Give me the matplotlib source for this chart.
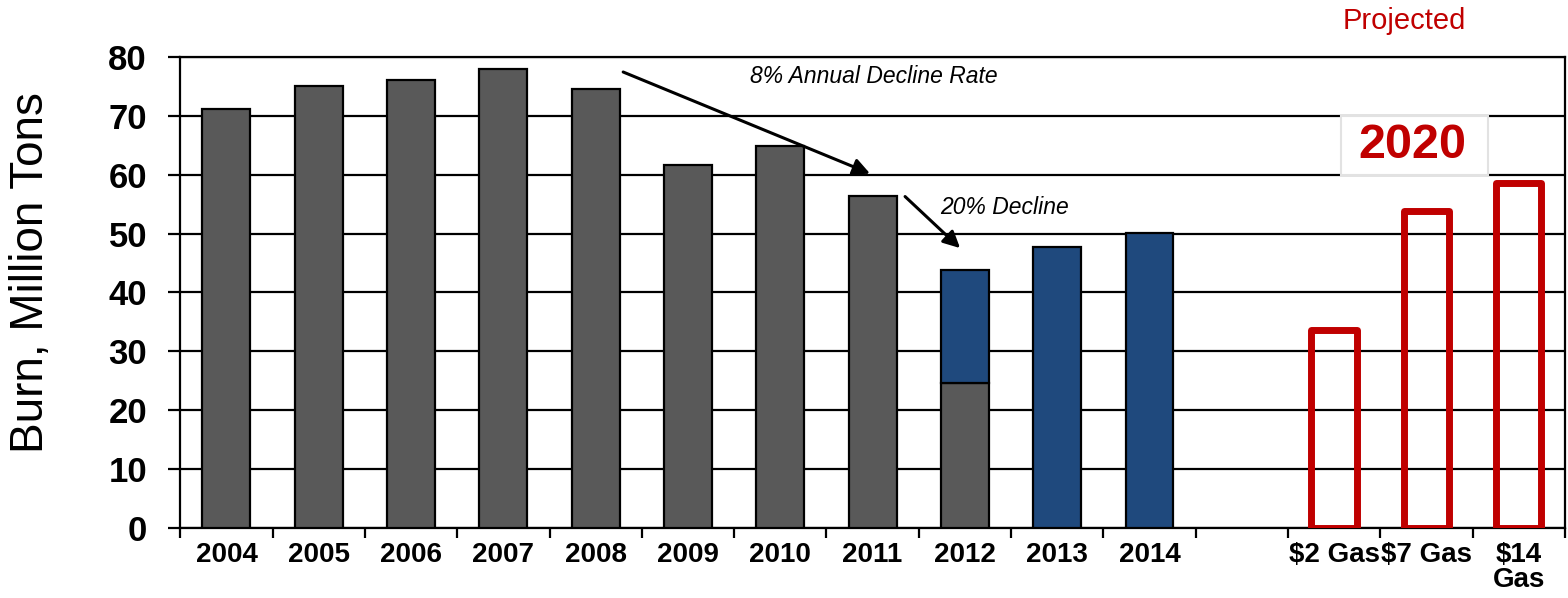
import matplotlib.pyplot as plt
from matplotlib.patches import Rectangle
import numpy as np

plt.rcParams['font.family'] = ['Liberation Sans', 'DejaVu Sans']

# categories (one empty slot between history and projections)
labels = ["2004", "2005", "2006", "2007", "2008", "2009", "2010", "2011",
          "2012", "2013", "2014", "", "$2 Gas", "$7 Gas", "$14\nGas"]

hist_years = ["2004", "2005", "2006", "2007", "2008", "2009", "2010", "2011", "2012"]
hist_burn = [71.2, 75.1, 76.1, 78.0, 74.6, 61.7, 64.9, 56.4, 24.6]

blue_years = ["2012", "2013", "2014"]
blue_burn = [19.2, 47.7, 50.1]
blue_base = [24.6, 0, 0]

proj_cases = ["$2 Gas", "$7 Gas", "$14\nGas"]
proj_burn = [33.6, 53.8, 58.6]

gray = "#595959"
blue = "#1F497D"
red = "#C00000"

fig = plt.figure(figsize=(15.68, 5.98), dpi=100)
ax = fig.add_axes([0.115, 0.117, 0.883, 0.788])

pos = {lab: i for i, lab in enumerate(labels)}

ax.bar([pos[y] for y in hist_years], hist_burn, width=0.52, color=gray,
       edgecolor="black", linewidth=1.6, zorder=3)
ax.bar([pos[y] for y in blue_years], blue_burn, bottom=blue_base, width=0.52,
       color=blue, edgecolor="black", linewidth=1.6, zorder=3)
ax.bar([pos[c] for c in proj_cases], proj_burn, width=0.49, fill=False,
       edgecolor=red, linewidth=5, joinstyle="round", zorder=3)

ax.set_xlim(-0.5, len(labels) - 0.5)
ax.set_ylim(0, 80)
ax.set_yticks(np.arange(0, 81, 10))
ax.yaxis.grid(True, color="black", linewidth=1.6, zorder=0)
ax.set_axisbelow(True)

ax.set_xticks(range(len(labels)))
ax.set_xticklabels(labels, fontsize=20, fontweight="bold", linespacing=0.95)
ax.set_xticks(np.arange(-0.5, len(labels), 1), minor=True)
ax.tick_params(axis="x", which="major", length=0, pad=10)
ax.tick_params(axis="x", which="minor", length=7, width=1.6, direction="out")
ax.tick_params(axis="y", length=9, width=1.6, direction="out", pad=15)
for t in ax.get_yticklabels():
    t.set_fontsize(25)
    t.set_fontweight("bold")

for s in ax.spines.values():
    s.set_linewidth(1.6)

ax.set_ylabel("Burn, Million Tons", fontsize=33)
ax.yaxis.set_label_coords(-0.092, 0.543)

# annotations
ax.annotate("", xy=(7.0, 60.0), xytext=(4.27, 77.6),
            arrowprops=dict(arrowstyle="-|>", color="black", lw=2.2,
                            mutation_scale=25), zorder=5)
ax.annotate("", xy=(7.97, 47.2), xytext=(7.33, 56.6),
            arrowprops=dict(arrowstyle="-|>", color="black", lw=2.2,
                            mutation_scale=25), zorder=5)
ax.text(7.01, 76.6, "8% Annual Decline Rate", fontsize=16.5, style="italic",
        ha="center", va="center", zorder=5)
ax.text(8.43, 54.5, "20% Decline", fontsize=16.5, style="italic",
        ha="center", va="center", zorder=5)

ax.add_patch(Rectangle((12.07, 60), 1.6, 10, facecolor="white",
                       edgecolor="#E2E2E2", linewidth=1.5, zorder=4))
ax.text(12.85, 65.0, "2020", fontsize=35, fontweight="bold", color=red,
        ha="center", va="center", zorder=6)
ax.text(12.76, 86.0, "Projected", fontsize=21, color=red,
        ha="center", va="center", clip_on=False)

fig.savefig("out.png", dpi=100)
